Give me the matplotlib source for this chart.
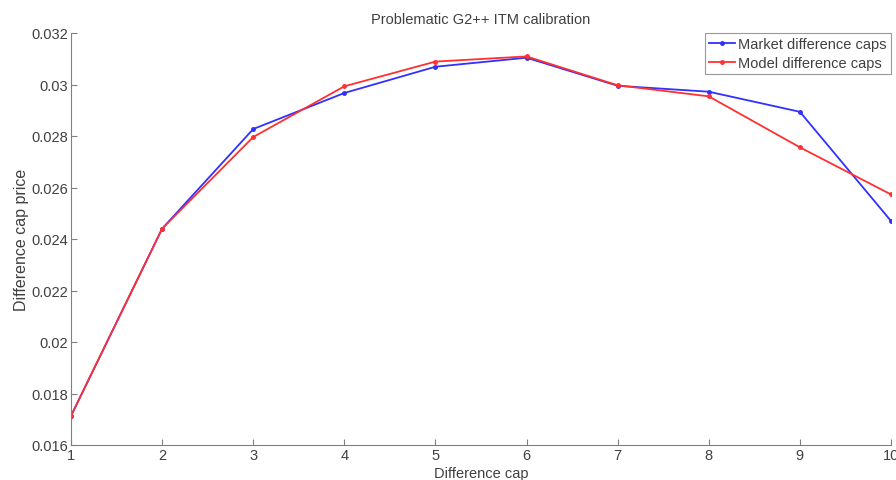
import matplotlib
matplotlib.use("Agg")
import matplotlib.pyplot as plt
from matplotlib.ticker import FuncFormatter

plt.rcParams['font.family'] = ['Liberation Sans', 'DejaVu Sans']

caps = [1, 2, 3, 4, 5, 6, 7, 8, 9, 10]
market = [0.01713, 0.02440, 0.02827, 0.02967, 0.03069, 0.03104, 0.02995, 0.02972, 0.02894, 0.02470]
model = [0.01713, 0.02440, 0.02796, 0.02993, 0.03089, 0.03109, 0.02997, 0.02954, 0.02756, 0.02573]
yticks = [0.016, 0.018, 0.02, 0.022, 0.024, 0.026, 0.028, 0.03, 0.032]

fs = 10.5
fig = plt.figure(figsize=(8.96, 4.81), dpi=100)
ax = fig.add_axes([71 / 896, 1 - 446 / 481, 820 / 896, 412 / 481])

ax.plot(caps, market, color='#3030ff', marker='.', markersize=5, linewidth=1.3,
        label='Market difference caps')
ax.plot(caps, model, color='#ff3030', marker='.', markersize=5, linewidth=1.3,
        label='Model difference caps')

ax.set_xlim(1, 10)
ax.set_ylim(0.016, 0.032)
ax.set_xticks(caps)
ax.set_yticks(yticks)
ax.yaxis.set_major_formatter(FuncFormatter(lambda v, p: ('%g' % round(v, 4))))

for s in ['top', 'right']:
    ax.spines[s].set_visible(False)
for s in ['left', 'bottom']:
    ax.spines[s].set_color('#808080')
ax.tick_params(direction='in', length=4, color='#808080', labelsize=fs,
               labelcolor='#404040', pad=2)

ax.set_title('Problematic G2++ ITM calibration', fontsize=fs, color='#404040', pad=7)
ax.set_xlabel('Difference cap', fontsize=fs, color='#404040', labelpad=3)
ax.set_ylabel('Difference cap price', fontsize=11.5, color='#404040', labelpad=2)

leg = ax.legend(loc='upper right', fontsize=fs, frameon=True, fancybox=False,
                borderpad=0.3, handlelength=1.8, handletextpad=0.2,
                labelspacing=0.3, borderaxespad=0, bbox_to_anchor=(1.0, 1.0))
leg.get_frame().set_edgecolor('#808080')
leg.get_frame().set_linewidth(0.8)
for t in leg.get_texts():
    t.set_color('#404040')

fig.savefig('out.png', dpi=100)
